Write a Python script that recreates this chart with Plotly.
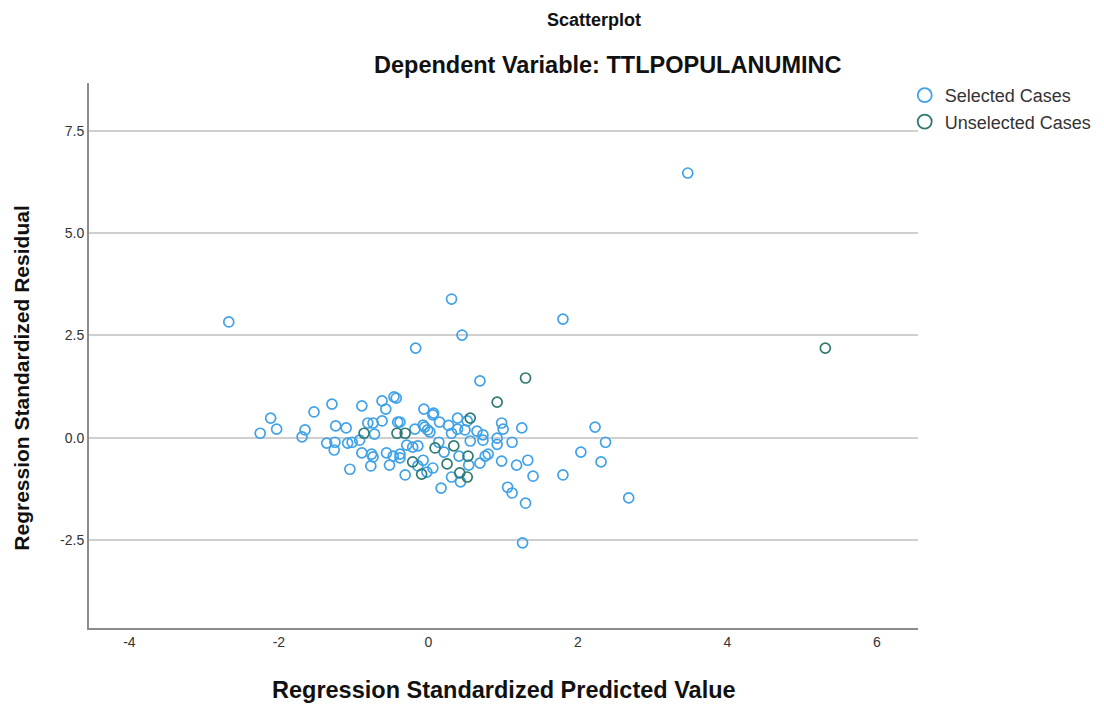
import plotly.graph_objects as go

# Selected cases (predicted, residual)
sel_x = [3.47, -2.67, 0.31, 1.80, 0.45, -0.17, 0.69, -0.06, 0.06, 0.07,
         0.39, 0.15, -0.38, 0.98, 1.00, 1.25, 2.23, 2.37, -0.05, -0.01,
         0.02, -0.18, 0.31, 0.39, 0.49, 0.65, 0.73, 0.92, 1.12, -0.29,
         -0.14, 0.14, 0.76, 0.80, 0.69, 0.98, 1.18, 1.33, 0.06, -0.31,
         0.31, 1.40, 1.80, 2.04, 2.31, 0.17, 1.06, 1.12, 1.30, 2.68,
         1.26, -0.38, -0.07, 0.41, 0.54, 0.56, 0.43, -2.25, -2.11, -2.03,
         -1.53, -1.65, -1.69, -1.29, -1.24, -1.10, -1.36, -1.25, -1.26, -1.08,
         -1.02, -0.89, -0.62, -0.57, -0.46, -0.43, -0.41, -0.81, -0.74, -0.62,
         -0.72, -0.92, -0.89, -0.76, -0.74, -0.56, -0.47, -0.38, -0.52, -0.77,
         -1.05, -0.21, -0.07, -0.02, -0.14, 0.52, 0.92, 0.73, 0.27, 0.21]
sel_y = [6.47, 2.83, 3.39, 2.90, 2.51, 2.19, 1.39, 0.70, 0.56, 0.60,
         0.48, 0.38, 0.38, 0.36, 0.21, 0.24, 0.26, -0.11, 0.26, 0.19,
         0.14, 0.21, 0.11, 0.21, 0.19, 0.16, 0.07, -0.01, -0.11, -0.18,
         -0.20, -0.11, -0.45, -0.40, -0.62, -0.57, -0.67, -0.55, -0.74, -0.91,
         -0.96, -0.94, -0.91, -0.35, -0.59, -1.23, -1.21, -1.35, -1.60, -1.47,
         -2.57, -0.49, -0.55, -0.45, -0.67, -0.08, -1.08, 0.11, 0.48, 0.21,
         0.63, 0.19, 0.02, 0.82, 0.29, 0.24, -0.13, -0.11, -0.30, -0.13,
         -0.11, 0.78, 0.90, 0.70, 1.00, 0.97, 0.38, 0.36, 0.36, 0.41,
         0.09, -0.06, -0.37, -0.40, -0.47, -0.37, -0.45, -0.40, -0.67, -0.69,
         -0.77, -0.23, 0.31, -0.84, -0.69, 0.41, -0.16, -0.06, 0.30, -0.35]

# Unselected cases
uns_x = [5.31, 1.30, 0.92, 0.56, -0.31, -0.86, -0.42, 0.09, 0.34, 0.53,
         -0.21, 0.25, -0.09, 0.42, 0.52]
uns_y = [2.19, 1.46, 0.87, 0.48, 0.11, 0.11, 0.11, -0.25, -0.20, -0.45,
         -0.59, -0.64, -0.89, -0.86, -0.96]

series_names = ["Selected Cases", "Unselected Cases"]
x_ticks = [-4, -2, 0, 2, 4, 6]
x_tick_text = ["-4", "-2", "0", "2", "4", "6"]
y_ticks = [-2.5, 0.0, 2.5, 5.0, 7.5]
y_tick_text = ["-2.5", "0.0", "2.5", "5.0", "7.5"]

SEL_COLOR = "#3fa2e8"
UNS_COLOR = "#2f7a72"
FONT = "Arial, Liberation Sans, sans-serif"

fig = go.Figure()
for name, xs, ys, col in [(series_names[0], sel_x, sel_y, SEL_COLOR),
                          (series_names[1], uns_x, uns_y, UNS_COLOR)]:
    fig.add_trace(go.Scatter(
        x=xs, y=ys, mode="markers", name=name, showlegend=False,
        legendgroup=name,
        marker=dict(symbol="circle-open", size=10, color=col,
                    line=dict(width=1.7, color=col)),
    ))
# legend entries with larger symbols
for name, col in [(series_names[0], SEL_COLOR), (series_names[1], UNS_COLOR)]:
    fig.add_trace(go.Scatter(
        x=[None], y=[None], mode="markers", name=name, legendgroup=name,
        marker=dict(symbol="circle-open", size=14, color=col,
                    line=dict(width=1.8, color=col)),
    ))

fig.update_layout(
    width=1096, height=699,
    margin=dict(l=81, r=186, t=75, b=79, autoexpand=False),
    paper_bgcolor="white", plot_bgcolor="white",
    font=dict(family=FONT, color="#333333", size=14),
    showlegend=True,
    legend=dict(x=0.984, y=1.011, xanchor="left", yanchor="top",
                font=dict(size=18, color="#333333"),
                bgcolor="rgba(0,0,0,0)", tracegroupgap=0,
                itemwidth=30, itemsizing="trace"),
    xaxis=dict(range=[-4.54, 6.55], tickvals=x_ticks, ticktext=x_tick_text,
               showgrid=False, zeroline=False, showline=True,
               linecolor="#8c8c8c", linewidth=2, ticks="",
               tickfont=dict(size=14, color="#333333")),
    yaxis=dict(range=[-4.65, 8.67], tickvals=y_ticks, ticktext=y_tick_text,
               showgrid=True, gridcolor="#cfcfcf", gridwidth=1.6,
               zeroline=False, showline=True, linecolor="#8c8c8c",
               linewidth=2, ticks="", tickfont=dict(size=14, color="#333333")),
    annotations=[
        dict(text="<b>Scatterplot</b>", xref="paper", yref="paper",
             x=0.609, y=1.116, xanchor="center", yanchor="middle",
             showarrow=False, font=dict(size=18, color="#111111")),
        dict(text="<b>Dependent Variable: TTLPOPULANUMINC</b>", xref="paper",
             yref="paper", x=0.626, y=1.033, xanchor="center",
             yanchor="middle", showarrow=False,
             font=dict(size=23.5, color="#111111")),
        dict(text="<b>Regression Standardized Predicted Value</b>",
             xref="paper", yref="paper", x=0.5, y=-0.114, xanchor="center",
             yanchor="middle", showarrow=False,
             font=dict(size=23.5, color="#111111")),
        dict(text="<b>Regression Standardized Residual</b>",
             xref="paper", yref="paper", x=-0.081, y=0.459,
             xanchor="center", yanchor="middle", textangle=-90,
             showarrow=False, font=dict(size=21, color="#111111")),
    ],
)

fig.write_html("out.html")
